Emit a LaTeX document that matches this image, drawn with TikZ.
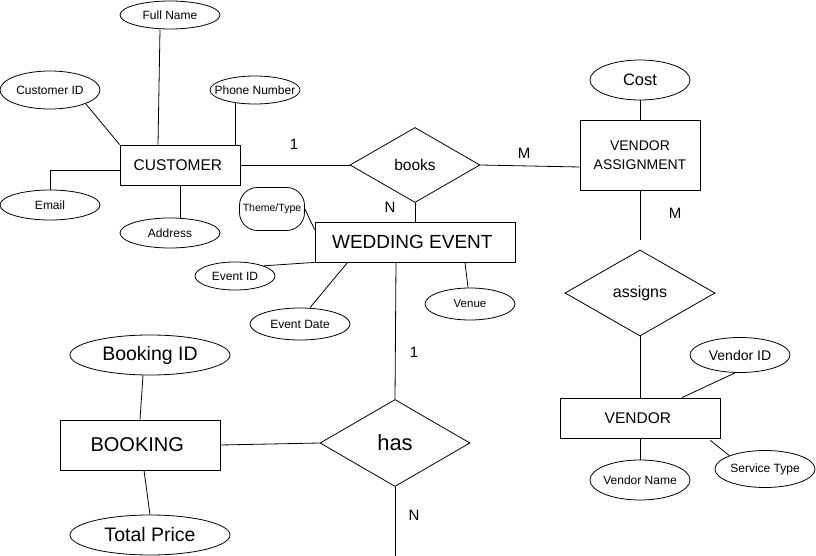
\documentclass[tikz,border=0pt]{standalone}
\usepackage{fontspec}
\setmainfont{Liberation Sans}
\usetikzlibrary{shapes.geometric}
\newcommand{\fs}[1]{\fontsize{#1}{#1}\selectfont}
\newcommand{\tight}[1]{\makebox[0pt]{#1}}
\tikzset{
  entity/.style={draw, line width=0.8pt, rectangle, inner sep=0pt, align=center},
  attr/.style={draw, line width=0.8pt, ellipse, inner sep=0pt, font=\fs{12}},
  rel/.style={draw, line width=0.8pt, diamond, inner sep=0pt},
  card/.style={font=\fs{15}},
  link/.style={line width=0.8pt}
}
\begin{document}
\begin{tikzpicture}[x=1pt, y=-1pt]
  \useasboundingbox (0,0) rectangle (816,556);
  % customer
  \node [ entity, minimum width=120, minimum height=40, font=\fs{15.5} ] (cust) at (180,165) { CUSTOMER };
  \node [ attr, minimum width=100, minimum height=28 ] (fname) at (170,15) { \tight{Full Name} };
  \node [ attr, minimum width=100, minimum height=38 ] (cid) at (50,90) { \tight{Customer ID} };
  \node [ attr, minimum width=90, minimum height=28 ] (phone) at (255,90) { \tight{Phone Number} };
  \node [ attr, minimum width=100, minimum height=30 ] (email) at (50,205) { \tight{Email} };
  \node [ attr, minimum width=100, minimum height=30 ] (addr) at (170,233) { \tight{Address} };
  \draw [link] (cid.south east)--(cust.north west);
  \draw [link] ([xshift=-10]fname.south)--([xshift=-22]cust.north);
  \draw [link] ([xshift=-5]cust.north east)--([xshift=-5,yshift=1.5]cust.north east |- phone.south);
  \draw [link] ([yshift=-5]cust.west) -| (email.north);
  \draw [link] (cust.south)--(cust.south |- addr.north);
  % books
  \node [ rel, minimum width=130, minimum height=75, font=\fs{15.5} ] (books) at (415,165) { books };
  \draw [link] (cust.east)--(books.west);
  \node [ card ] (c1) at (294,144) { 1 };
  \node [ card ] (cm) at (524,153) { M };
  \node [ card ] (cn) at (390,207) { N };
  % vendor assignment
  \node [ entity, minimum width=120, minimum height=70, font=\fontsize{14}{19}\selectfont ] (va) at (640,155) { VENDOR\\ASSIGNMENT };
  \node [ attr, minimum width=100, minimum height=40, font=\fs{16.5} ] (cost) at (640,80) { Cost };
  \draw [link] (cost.south)--(va.north);
  \draw [link] (books.east)--([yshift=-12]va.west);
  % wedding event
  \node [ entity, minimum width=200, minimum height=40, font=\fs{19} ] (wed) at (415,242) { WEDDING EVENT };
  \draw [link] (books.south)--(wed.north);
  \node [ draw, line width=0.8pt, rectangle, rounded corners=18, inner sep=0pt, minimum width=65, minimum height=43, font=\fs{10.5} ] (theme) at (272,209) { \tight{Theme/Type} };
  \node [ attr, minimum width=80, minimum height=28 ] (eid) at (235,276) { \tight{Event ID} };
  \node [ attr, minimum width=100, minimum height=32 ] (edate) at (300,324) { \tight{Event Date} };
  \node [ attr, minimum width=90, minimum height=32, font=\fs{11.5} ] (venue) at (470,304) { \tight{Venue} };
  \draw [link] (theme.east)--([yshift=-8]wed.north west);
  \draw [link] (eid.north east)--(wed.south west);
  \draw [link] ([xshift=10]edate.north)--([xshift=33]wed.south west);
  \draw [link] ([xshift=50]wed.south)--([xshift=-2]venue.north);
  % assigns and vendor
  \node [ rel, minimum width=150, minimum height=86, font=\fs{16} ] (assigns) at (640,293) { assigns };
  \coordinate (vaend) at ([yshift=10]assigns.north);
  \draw [link] (va.south)--(vaend);
  \node [ card ] (cm2) at (675,213) { M };
  \node [ entity, minimum width=160, minimum height=40, font=\fs{15.5} ] (vendor) at (640,418) { VENDOR };
  \draw [link] (assigns.south)--(vendor.north);
  \node [ attr, minimum width=100, minimum height=35, font=\fs{14} ] (vid) at (740,355) { \tight{Vendor ID} };
  \node [ attr, minimum width=100, minimum height=40 ] (vname) at (640,480) { \tight{Vendor Name} };
  \node [ attr, minimum width=100, minimum height=37 ] (stype) at (765,469) { \tight{Service Type} };
  \draw [link] ([xshift=-5]vid.south)--([xshift=42]vendor.north);
  \draw [link] (vendor.south)--(vname.north);
  \draw [link] ([xshift=-10,yshift=-2]vendor.south east)--(stype.north west);
  % has and booking
  \node [ rel, minimum width=150, minimum height=87, font=\fs{22} ] (has) at (395,443) { has };
  \draw [link] ([xshift=-19]wed.south)--(has.north);
  \coordinate (hasend) at (395,556);
  \draw [link] (has.south)--(hasend);
  \node [ card ] (c1b) at (414,352) { 1 };
  \node [ card ] (cnb) at (414,515) { N };
  \node [ entity, minimum width=160, minimum height=50, font=\fs{20} ] (booking) at (140,445) { BOOKING };
  \node [ attr, minimum width=160, minimum height=40, font=\fs{19.5} ] (bid) at (150,355) { \tight{Booking ID} };
  \node [ attr, minimum width=160, minimum height=40, font=\fs{19.5} ] (tprice) at (150,535) { \tight{Total Price} };
  \draw [link] (has.west)--(booking.east);
  \draw [link] ([xshift=-7]bid.south)--(booking.north);
  \draw [link] ([xshift=4]booking.south)--(tprice.north);
\end{tikzpicture}
\end{document}
